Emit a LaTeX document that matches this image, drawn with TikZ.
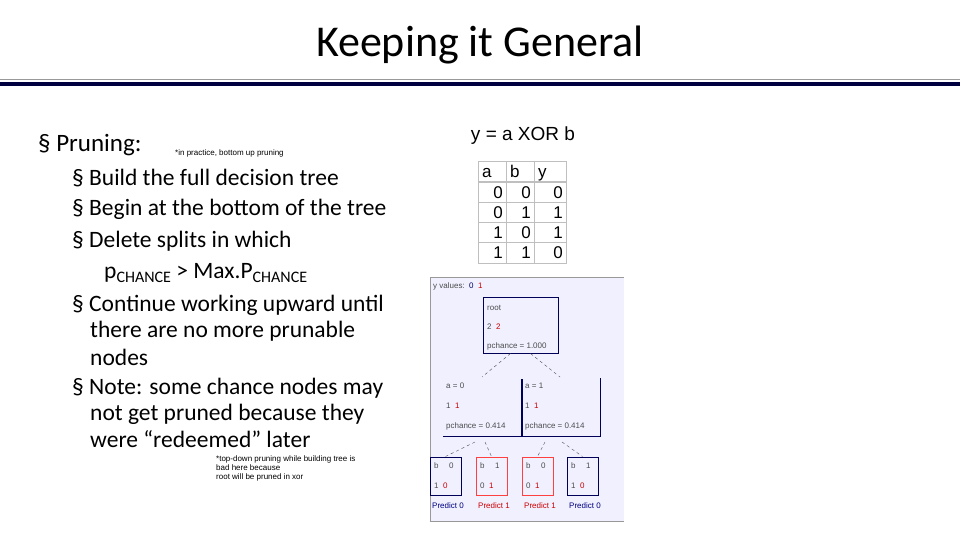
\documentclass[tikz,border=0pt]{standalone}
\usepackage{fontspec}
\setmainfont{Carlito}
\newfontfamily\arialf{Liberation Sans}
\begin{document}
\begin{tikzpicture}[x=1pt,y=-1pt,
  txt/.style={anchor=west,inner sep=0pt,font=\fontsize{23.5}{25}\selectfont},
  tiny/.style={anchor=west,inner sep=0pt,font=\arialf\fontsize{8}{9}\selectfont},
  tr/.style={anchor=west,inner sep=0pt,font=\arialf\fontsize{8}{9}\selectfont,text=black!70},
  trr/.style={tr,text=red!80!black},
  nv/.style={draw=blue!35!black,line width=1pt},
  rd/.style={draw=red!75,line width=1pt},
  cell/.style={draw=black!25,line width=1pt}]
\useasboundingbox (0,0) rectangle (960,540);
\node[inner sep=0pt,font=\fontsize{44}{48}\selectfont] (title) at (480,45) {Keeping it General};
\draw[line width=4pt,blue!25!black] (0,84) -- (960,84);
\draw[line width=1pt,black!40] (0,80) -- (960,80);
\node[txt,font=\fontsize{25}{27}\selectfont] (p) at (38,145) {§ Pruning:};
\node[tiny] (pr) at (175,153) {*in practice, bottom up pruning};
\node[txt] (b1) at (72,178) {§ Build the full decision tree};
\node[txt] (b2) at (72,209) {§ Begin at the bottom of the tree};
\node[txt] (b3) at (72,241) {§ Delete splits in which};
\node[txt] (b4) at (104,273) {p\raisebox{-0.3ex}{\fontsize{16}{17}\selectfont CHANCE} > Max.P\raisebox{-0.3ex}{\fontsize{16}{17}\selectfont CHANCE}};
\node[txt] (b5) at (72,305) {§ Continue working upward until};
\node[txt] (b6) at (90,331) {there are no more prunable};
\node[txt] (b7) at (90,357) {nodes};
\node[txt] (b8) at (72,388) {§ Note: some chance nodes may};
\node[txt] (b9) at (90,414) {not get pruned because they};
\node[txt] (b10) at (90,439) {were “redeemed” later};
\node[tiny,anchor=north west,align=left] (fn) at (216,455) {*top-down pruning while building tree is\\ bad here because\\ root will be pruned in xor};
\node[inner sep=0pt,font=\arialf\fontsize{19}{21}\selectfont] (xor) at (523,136) {y = a XOR b};
% table
\draw[cell] (478,162) rectangle (566,263);
\foreach \y in {182,202,222,242} \draw[cell] (478,\y) -- (566,\y);
\draw[cell] (506,162) -- (506,263); \draw[cell] (534,162) -- (534,263);
\begin{scope}[font=\arialf\fontsize{17}{18}\selectfont,inner sep=0pt]
\node[anchor=base west] (ha) at (482,178) {a};
\node[anchor=base west] (hb) at (510,178) {b};
\node[anchor=base west] (hy) at (538,178) {y};
\foreach \r/\a/\b/\yy in {0/0/0/0,1/0/1/1,2/1/0/1,3/1/1/0}{
  \node[anchor=base east] (ta\r) at (503,198+20*\r) {\a};
  \node[anchor=base east] (tb\r) at (531,198+20*\r) {\b};
  \node[anchor=base east] (ty\r) at (563,198+20*\r) {\yy};}
\end{scope}
% tree panel
\fill[blue!6] (430,277) rectangle (624,521);
\draw[black!40,line width=1pt] (624,277) -- (430,277) -- (430,521) -- (624,521);
\node[tr] (yv) at (433,286) {y values:\ \ \textcolor{blue!40!black}{0}\ \ \textcolor{red!80!black}{1}};
\node[nv,minimum width=75pt,minimum height=56pt,inner sep=0pt] (root) at (520.5,325) {};
\node[tr] at (487,308) {root};
\node[tr] at (487,327) {2\ \ \textcolor{red!80!black}{2}};
\node[tr] at (487,346) {pchance = 1.000};
\coordinate (m0) at (482,377);
\coordinate (m1) at (560,377);
\draw[black!70,dashed] (root.south) ++(-10,0) -- (m0);
\draw[black!70,dashed] (root.south) ++(10,0) -- (m1);
\draw[nv] (443,436) -- (600,436) -- (600,378);
\draw[nv,line width=2pt] (522,379) -- (522,436);
\node[tr] at (446,386) {a = 0};
\node[tr] at (446,406) {1\ \ \textcolor{red!80!black}{1}};
\node[tr] at (446,426) {pchance = 0.414};
\node[tr] at (525,386) {a = 1};
\node[tr] at (525,406) {1\ \ \textcolor{red!80!black}{1}};
\node[tr] at (525,426) {pchance = 0.414};
\node[nv,minimum width=31pt,minimum height=38pt,inner sep=0pt] (l1) at (445.5,476) {};
\node[rd,minimum width=31pt,minimum height=38pt,inner sep=0pt] (l2) at (491.5,476) {};
\node[rd,minimum width=31pt,minimum height=38pt,inner sep=0pt] (l3) at (537.5,476) {};
\node[nv,minimum width=31pt,minimum height=38pt,inner sep=0pt] (l4) at (582.5,476) {};
\foreach \n/\v/\x/\y in {1/0/434/445,2/1/480/491,3/0/526/537,4/1/571/582}{
  \node[tr] at (\x,466) {b};
  \node[tr] at (\y+4,466) {\v};
}
\node[tr] at (434,486) {1\ \ \textcolor{red!80!black}{0}};
\node[tr] at (480,486) {0\ \ \textcolor{red!80!black}{1}};
\node[tr] at (526,486) {0\ \ \textcolor{red!80!black}{1}};
\node[tr] at (571,486) {1\ \ \textcolor{red!80!black}{0}};
\draw[black!70,dashed] (475,442) -- (l1.north);
\draw[black!70,dashed] (485,442) -- (l2.north);
\draw[black!70,dashed] (545,442) -- (l3.north);
\draw[black!70,dashed] (562,442) -- (l4.north);
\node[tr,text=blue!50!black] at (432,506) {Predict 0};
\node[trr] at (478,506) {Predict 1};
\node[trr] at (524,506) {Predict 1};
\node[tr,text=blue!50!black] at (569,506) {Predict 0};
\end{tikzpicture}
\end{document}
